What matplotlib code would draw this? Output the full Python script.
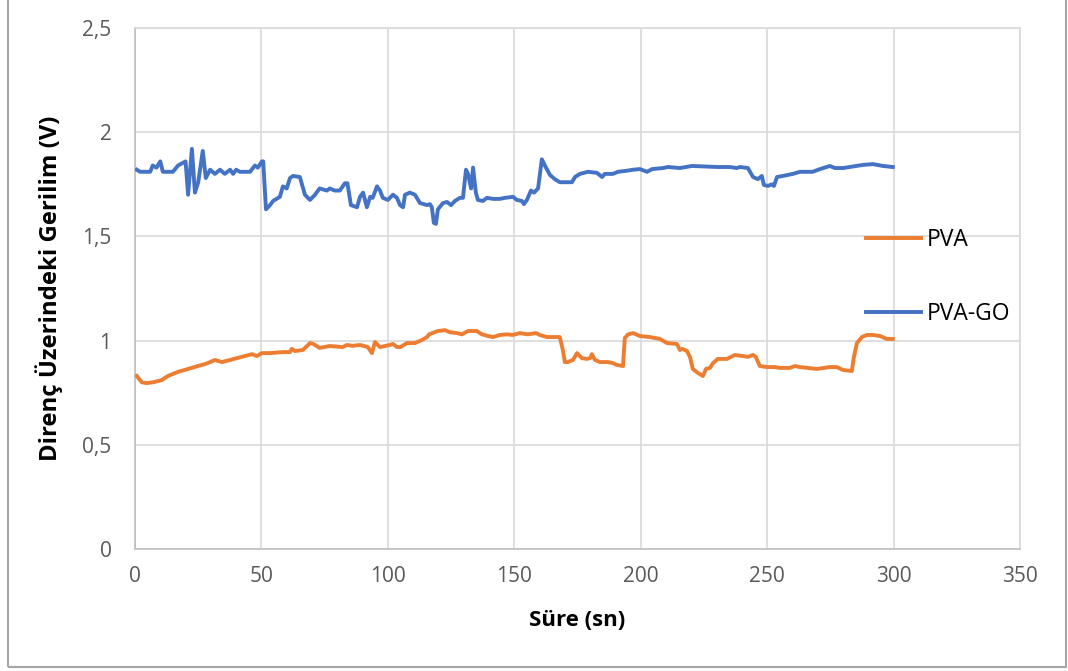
import matplotlib
matplotlib.use('Agg')
import matplotlib.pyplot as plt
from matplotlib.patches import Rectangle

# ── data ──────────────────────────────────────────────────────────────────────
pva_go_t = [0.7, 2, 6, 7, 8.5, 10, 11, 15, 17, 18.5, 20, 21, 22.5, 23.7, 25, 26.8, 28, 29.7,
            31.6, 33.6, 35.5, 37.6, 38.8, 40, 41.5, 45.5, 47.4, 48.6, 50.2, 50.7, 51.8, 53.4,
            54.6, 57.3, 58.5, 60, 61.3, 62.5, 65.2, 67.2, 69.2, 71.2, 73, 75.9, 77, 79, 81, 83,
            84, 85.4, 87.8, 89, 90.2, 91.7, 93, 94, 95.7, 96.9, 98, 100, 102, 103.6, 104.8, 106,
            106.8, 108.7, 110.7, 112.7, 115.5, 116.6, 117.4, 118.2, 119, 119.8, 121.8, 123.4,
            125, 126.5, 128.5, 129.7, 130.9, 131.7, 132.9, 133.7, 134.8, 135.6, 137.6, 139.2,
            141.6, 144.3, 146.3, 149.5, 151, 153, 153.8, 155, 156.6, 157.8, 159.4, 160.9, 162.1,
            164.1, 166, 168, 172.8, 174, 176, 179.1, 182.7, 184.7, 185.8, 189, 191, 194.5, 197,
            199.7, 202.5, 204.5, 208.8, 210.8, 215.5, 220.3, 230.5, 235.3, 238, 239.2, 242.4,
            244.4, 246.3, 247.9, 248.7, 250.3, 251.9, 252.7, 253.9, 256.2, 260.2, 263, 268,
            270.9, 274.8, 276.8, 280, 282.7, 287.9, 291.8, 295.8, 299.7]
pva_go_v = [1.82, 1.81, 1.81, 1.84, 1.83, 1.86, 1.81, 1.81, 1.84, 1.85, 1.86, 1.70, 1.92, 1.71,
            1.76, 1.91, 1.78, 1.82, 1.80, 1.82, 1.80, 1.82, 1.80, 1.82, 1.81, 1.81, 1.84, 1.83,
            1.86, 1.86, 1.63, 1.65, 1.67, 1.69, 1.74, 1.73, 1.78, 1.79, 1.785, 1.70, 1.675, 1.70,
            1.73, 1.72, 1.73, 1.72, 1.72, 1.755, 1.755, 1.65, 1.64, 1.69, 1.71, 1.64, 1.69,
            1.685, 1.74, 1.72, 1.685, 1.675, 1.70, 1.685, 1.65, 1.64, 1.70, 1.71, 1.70, 1.66,
            1.65, 1.655, 1.64, 1.565, 1.56, 1.63, 1.66, 1.665, 1.65, 1.67, 1.685, 1.685, 1.82,
            1.80, 1.73, 1.83, 1.71, 1.675, 1.67, 1.685, 1.68, 1.68, 1.685, 1.69, 1.675, 1.67,
            1.655, 1.675, 1.72, 1.71, 1.73, 1.87, 1.84, 1.795, 1.775, 1.76, 1.76, 1.785, 1.80,
            1.81, 1.805, 1.785, 1.80, 1.80, 1.81, 1.815, 1.82, 1.823, 1.81, 1.823, 1.828, 1.833,
            1.828, 1.838, 1.833, 1.833, 1.828, 1.833, 1.828, 1.785, 1.775, 1.79, 1.747, 1.742,
            1.75, 1.742, 1.785, 1.79, 1.80, 1.81, 1.81, 1.823, 1.838, 1.828, 1.828, 1.833,
            1.843, 1.847, 1.838, 1.833]

pva_t = [0.7, 2.7, 4.6, 7.2, 10.5, 13, 15, 17, 21, 24.9, 28.4, 31.6, 34.4, 37.6, 40.3, 43.5,
         46.3, 48.2, 50.2, 53.4, 58.5, 61.3, 62, 63.3, 66.4, 69.2, 70.4, 73, 77, 82.2, 83.8,
         86.2, 89, 92.1, 93.7, 94.9, 96.9, 100.8, 102, 103.6, 105, 107.5, 110.7, 113.5, 115.5,
         116.3, 119.8, 122.6, 124.6, 127.3, 129.3, 131.7, 135.2, 137.2, 139.6, 141.6, 144.3,
         147.1, 149.5, 152.2, 155.4, 158.6, 160.1, 162.9, 168, 169.2, 170, 171.2, 173.2, 174.8,
         176.7, 178.7, 180, 180.7, 181.9, 183.9, 187, 189, 190.6, 193, 193.7, 195, 197, 199.7,
         203.6, 207.6, 210.4, 214.3, 215.5, 216.5, 218.3, 219.5, 220.6, 222.6, 224.6, 225.8,
         227.4, 228.6, 230.5, 234.1, 237.2, 240.4, 242.4, 244.4, 245.5, 247.1, 249.9, 253, 255,
         259, 261, 263, 269.7, 274.8, 277.5, 280, 283.5, 284.3, 285.5, 287.5, 289.4, 291.8,
         294.6, 297.4, 299.7]
pva_v = [0.83, 0.80, 0.796, 0.80, 0.81, 0.83, 0.84, 0.85, 0.864, 0.878, 0.89, 0.907, 0.897,
         0.907, 0.916, 0.926, 0.935, 0.926, 0.94, 0.94, 0.945, 0.945, 0.96, 0.95, 0.955, 0.988,
         0.985, 0.965, 0.974, 0.969, 0.979, 0.975, 0.979, 0.969, 0.94, 0.993, 0.969, 0.979,
         0.984, 0.969, 0.969, 0.988, 0.988, 1.003, 1.017, 1.03, 1.046, 1.05, 1.04, 1.036, 1.03,
         1.046, 1.046, 1.03, 1.022, 1.017, 1.027, 1.03, 1.027, 1.036, 1.03, 1.036, 1.027, 1.017,
         1.017, 0.955, 0.897, 0.897, 0.907, 0.94, 0.916, 0.912, 0.916, 0.935, 0.907, 0.897,
         0.897, 0.892, 0.883, 0.878, 1.012, 1.03, 1.036, 1.022, 1.017, 1.008, 0.988, 0.984,
         0.955, 0.96, 0.95, 0.921, 0.864, 0.845, 0.83, 0.864, 0.869, 0.892, 0.912, 0.912,
         0.931, 0.926, 0.922, 0.931, 0.922, 0.878, 0.873, 0.873, 0.869, 0.869, 0.878, 0.873,
         0.864, 0.873, 0.873, 0.859, 0.854, 0.921, 0.988, 1.017, 1.027, 1.027, 1.022, 1.008,
         1.008]

x_ticks = [0, 50, 100, 150, 200, 250, 300, 350]
y_ticks = [0, 0.5, 1, 1.5, 2, 2.5]
y_tick_labels = ['0', '0,5', '1', '1,5', '2', '2,5']

# ── figure ────────────────────────────────────────────────────────────────────
plt.rcParams['font.family'] = ['Open Sans', 'DejaVu Sans']
W, H = 1068, 671
fig = plt.figure(figsize=(W / 100, H / 100), dpi=100)
ax = fig.add_axes([135 / W, 1 - 549 / H, (1020 - 135) / W, (549 - 28) / H])

# outer chart border (top edge is cut off in the reference)
fig.patches.append(Rectangle((8 / W, 1 - 667 / H), (1066 - 8) / W, 1.0,
                             transform=fig.transFigure, fill=False,
                             edgecolor='#a6a6a6', lw=1.5, zorder=0))

ax.plot(pva_t, pva_v, color='#ED7D31', lw=2.8, solid_joinstyle='round', label='PVA', zorder=3)
ax.plot(pva_go_t, pva_go_v, color='#4472C4', lw=2.8, solid_joinstyle='round', label='PVA-GO',
        zorder=3)

ax.set_xlim(0, 350)
ax.set_ylim(0, 2.5)
ax.set_xticks(x_ticks)
ax.set_yticks(y_ticks)
ax.set_yticklabels(y_tick_labels)
ax.grid(True, color='#d9d9d9', lw=1.2)
ax.set_axisbelow(True)
for side, sp in ax.spines.items():
    sp.set_color('#d9d9d9')
    sp.set_linewidth(1.2)
ax.spines['left'].set_color('#bfbfbf')
ax.spines['bottom'].set_color('#bfbfbf')
ax.tick_params(axis='both', length=0, labelsize=15, labelcolor='#595959')
ax.tick_params(axis='x', pad=12)
ax.tick_params(axis='y', pad=17)

ax.set_xlabel('Süre (sn)', fontsize=16, fontweight='bold', labelpad=17)
ax.set_ylabel('Direnç Üzerindeki Gerilim (V)', fontsize=17.2, fontweight='bold', labelpad=14)

ax.legend(loc='center left', bbox_to_anchor=(866 / W, 1 - 277 / H),
          bbox_transform=fig.transFigure, frameon=False, fontsize=16.5,
          handlelength=2.4, handletextpad=0.25, labelspacing=2.2,
          borderpad=0, borderaxespad=0)

fig.savefig('out.png', dpi=100)
